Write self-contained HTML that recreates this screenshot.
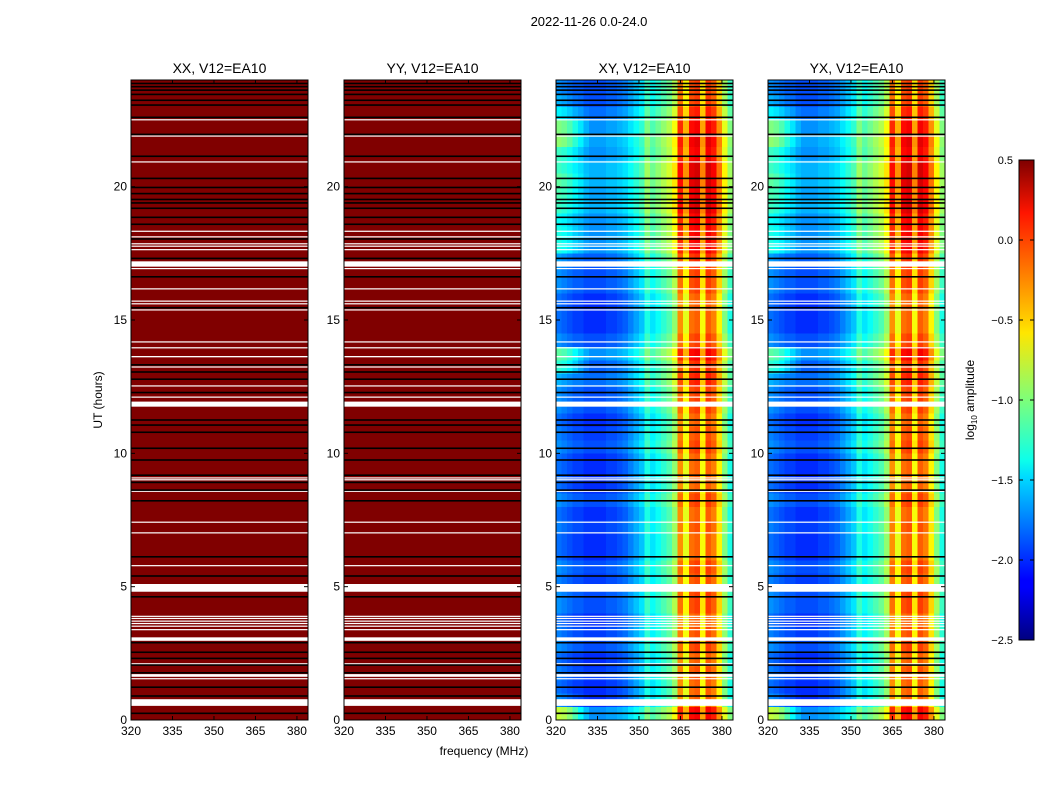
<!DOCTYPE html>
<html><head><meta charset="utf-8"><style>
body{margin:0;background:#fff;width:1050px;height:800px;overflow:hidden}
svg{display:block;font-family:"Liberation Sans","DejaVu Sans",sans-serif}
</style></head><body>
<svg id="fig" width="1050" height="800" viewBox="0 0 1050 800">
<defs><linearGradient id="jet" x1="0" y1="1" x2="0" y2="0">
<stop offset="0" stop-color="#00007f"/><stop offset="0.11" stop-color="#0000ff"/><stop offset="0.125" stop-color="#0000ff"/><stop offset="0.34" stop-color="#00dbff"/><stop offset="0.375" stop-color="#0dffea"/><stop offset="0.5" stop-color="#7dff7a"/><stop offset="0.64" stop-color="#ffe600"/><stop offset="0.66" stop-color="#ffd400"/><stop offset="0.89" stop-color="#ff1500"/><stop offset="1" stop-color="#7f0000"/>
</linearGradient></defs>
<text x="589" y="26" font-size="13" text-anchor="middle">2022-11-26 0.0-24.0</text>
<text x="484" y="755" font-size="12" text-anchor="middle">frequency (MHz)</text>
<text transform="translate(102,400) rotate(-90)" font-size="12" text-anchor="middle">UT (hours)</text>
<g id="panels"></g>
<g>
<rect x="1019" y="160" width="15" height="480" fill="url(#jet)" stroke="#000" stroke-width="1"/>
<g id="cbticks"></g>
<text transform="translate(974,400) rotate(-90)" font-size="12" text-anchor="middle">log<tspan font-size="8" dy="3">10</tspan><tspan dy="-3"> amplitude</tspan></text>
</g>
</svg>
<script>
// ---- data ----
const panelTitles = ["XX, V12=EA10","YY, V12=EA10","XY, V12=EA10","YX, V12=EA10"];
const xTicks = [320,335,350,365,380];
const yTicks = [0,5,10,15,20];
const cbTicks = [0.5,0.0,-0.5,-1.0,-1.5,-2.0,-2.5];
const cbLabels = ["0.5","0.0","\u22120.5","\u22121.0","\u22121.5","\u22122.0","\u22122.5"];
// channel base log amplitude (2 MHz channels from 320 MHz) for cross-hands
const chanBase = [-1.8,-1.85,-1.9,-1.95,-1.95,-2.0,-2.0,-2.0,-2.0,-1.95,-1.95,-1.9,-1.85,-1.75,-1.65,-1.55,-1.3,-1.45,-1.35,-1.25,-1.15,-0.95,-0.3,-0.7,-0.2,-0.15,-0.65,-0.15,-0.25,-0.6,-1.0,-1.3];
const chanLeft = [1,1,0.9,0.7,0.4,0.2,0,0,0,0,0,0,0,0,0,0,0,0,0,0,0,0,0,0,0,0,0,0,0,0,0,0];
// per 0.5 h block offsets
const rowOffset = [0.3,0,0,0.05,0,0.1,0.05,0,0.1,0.1,0.05,0.1,0,0,0.05,0,0.1,0,0,0,0.1,0.05,0,0.1,0.1,0.2,0.15,0.3,0.1,0,0,0,0.1,0.1,0.15,0.3,0.3,0.3,0.4,0.35,0.4,0.4,0.3,0.35,0.3,0.2,0.1,0.1];
const rowLeft = [0.7,0.1,0,0,0,0,0,0,0,0,0,0,0,0,0,0,0,0,0,0,0,0,0,0,0,0,0.4,0.4,0,0,0,0,0,0,0,0.2,0.2,0.15,0.2,0.3,0.3,0.2,0.3,0.5,0.5,0.2,0.1,0];
const parallelValue = 0.5;
// flagged (white) intervals, hours
const whiteStart = [0.53,1.53,1.62,2.09,2.97,3.37,3.5,3.6,3.69,3.79,3.87,4.81,5.77,7.0,7.4,8.56,9.0,9.06,11.75,12.09,12.51,13.22,13.6,13.94,14.16,15.36,15.59,15.69,16.15,16.91,17.0,17.62,17.75,17.84,18.1,18.31,20.91,21.88,22.49];
const whiteEnd   = [0.78,1.57,1.72,2.13,3.1,3.41,3.54,3.64,3.73,3.83,3.91,5.1,5.81,7.04,7.44,8.6,9.03,9.1,11.94,12.13,12.55,13.26,13.65,13.98,14.2,15.4,15.63,15.73,16.19,16.95,17.2,17.66,17.79,17.88,18.14,18.35,20.95,21.92,22.53];
// black separator times, hours
const blackTimes = [0.25,0.9,1.23,1.77,2.06,2.31,2.54,2.9,4.62,5.4,6.12,8.22,8.62,8.91,9.18,9.75,10.19,10.79,11.06,11.25,12.28,12.78,13.05,13.32,15.46,16.62,17.31,18.04,18.59,18.85,19.19,19.39,19.52,19.74,19.97,20.31,21.14,21.96,22.6,23.06,23.24,23.46,23.62,23.75,23.87];

// ---- geometry ----
const panelX = [131,344,556,768], PW=177, PT=80, PB=720;
const fmin=320,fmax=384,tmin=0,tmax=24;
const NS="http://www.w3.org/2000/svg";
function xs(px,f){return px+(f-fmin)/(fmax-fmin)*PW;}
function ys(t){return PB-(t-tmin)/(tmax-tmin)*(PB-PT);}
function jet(v){let t=(v+2.5)/3;t=Math.max(0,Math.min(1,t));
 const r=Math.max(0,Math.min(1,1.5-Math.abs(4*t-3))),g=Math.max(0,Math.min(1,1.5-Math.abs(4*t-2))),b=Math.max(0,Math.min(1,1.5-Math.abs(4*t-1)));
 return `rgb(${Math.round(r*255)},${Math.round(g*255)},${Math.round(b*255)})`;}
function mk(tag,a,parent){const e=document.createElementNS(NS,tag);for(const k in a)e.setAttribute(k,a[k]);parent.appendChild(e);return e;}
const panels=document.getElementById('panels');
panelX.forEach((px,pi)=>{
 const g=mk('g',{},panels);
 
 
 const cells=mk('g',{'shape-rendering':'crispEdges'},g);
 
 
 const nc=chanBase.length, nr=rowOffset.length;
 for(let r=0;r<nr;r++){
  const t0=r*(tmax/nr),t1=(r+1)*(tmax/nr);
  for(let c=0;c<nc;c++){
   const f0=fmin+c*(fmax-fmin)/nc,f1=fmin+(c+1)*(fmax-fmin)/nc;
   const v = pi<2 ? parallelValue : chanBase[c]+rowOffset[r]+rowLeft[r]*chanLeft[c];
   const x0=xs(px,f0),x1=xs(px,f1),y0=ys(t1),y1=ys(t0);
   const rc=mk('rect',{x:x0.toFixed(2),y:y0.toFixed(2),width:(x1-x0+0.4).toFixed(2),height:(y1-y0+0.4).toFixed(2),fill:jet(v)},cells);
   
   
  }
 }
 whiteStart.forEach((s,i)=>{
  const y0=ys(whiteEnd[i]),y1=ys(s);
  const w=mk('rect',{x:px,y:y0,width:PW,height:Math.max(1.2,y1-y0),fill:'#fff'},g);
  
  
 });
 blackTimes.forEach(t=>{
  const y=ys(t);
  const l=mk('rect',{x:px,y:y-0.8,width:PW,height:1.6,fill:'#000'},g);
  
  
 });
 const fr=mk('rect',{x:px,y:PT,width:PW,height:PB-PT,fill:'none',stroke:'#000','stroke-width':1},g);
 
 
 const ti=mk('text',{x:px+PW/2,y:73,'font-size':14,'text-anchor':'middle'},g);ti.textContent=panelTitles[pi];
 
 
 xTicks.forEach(f=>{const x=xs(px,f);
  mk('line',{x1:x,x2:x,y1:PB,y2:PB-4,stroke:'#000'},g);mk('line',{x1:x,x2:x,y1:PT,y2:PT+4,stroke:'#000'},g);
  const tl=mk('text',{x:x,y:735,'font-size':12,'text-anchor':'middle'},g);tl.textContent=f;
  
  
 });
 yTicks.forEach(t=>{const y=ys(t);
  mk('line',{x1:px,x2:px+4,y1:y,y2:y,stroke:'#000'},g);mk('line',{x1:px+PW,x2:px+PW-4,y1:y,y2:y,stroke:'#000'},g);
  const tl=mk('text',{x:px-4,y:y+4,'font-size':12,'text-anchor':'end'},g);tl.textContent=t;
  
  
 });
});
const cbt=document.getElementById('cbticks');
cbTicks.forEach((v,i)=>{const y=160+(0.5-v)/3*480;
 mk('line',{x1:1019,x2:1023,y1:y,y2:y,stroke:'#000'},cbt);mk('line',{x1:1030,x2:1034,y1:y,y2:y,stroke:'#000'},cbt);
 const tl=mk('text',{x:1013,y:y+4,'font-size':11,'text-anchor':'end'},cbt);tl.textContent=cbLabels[i];
 
 
});
</script>
</body></html>
